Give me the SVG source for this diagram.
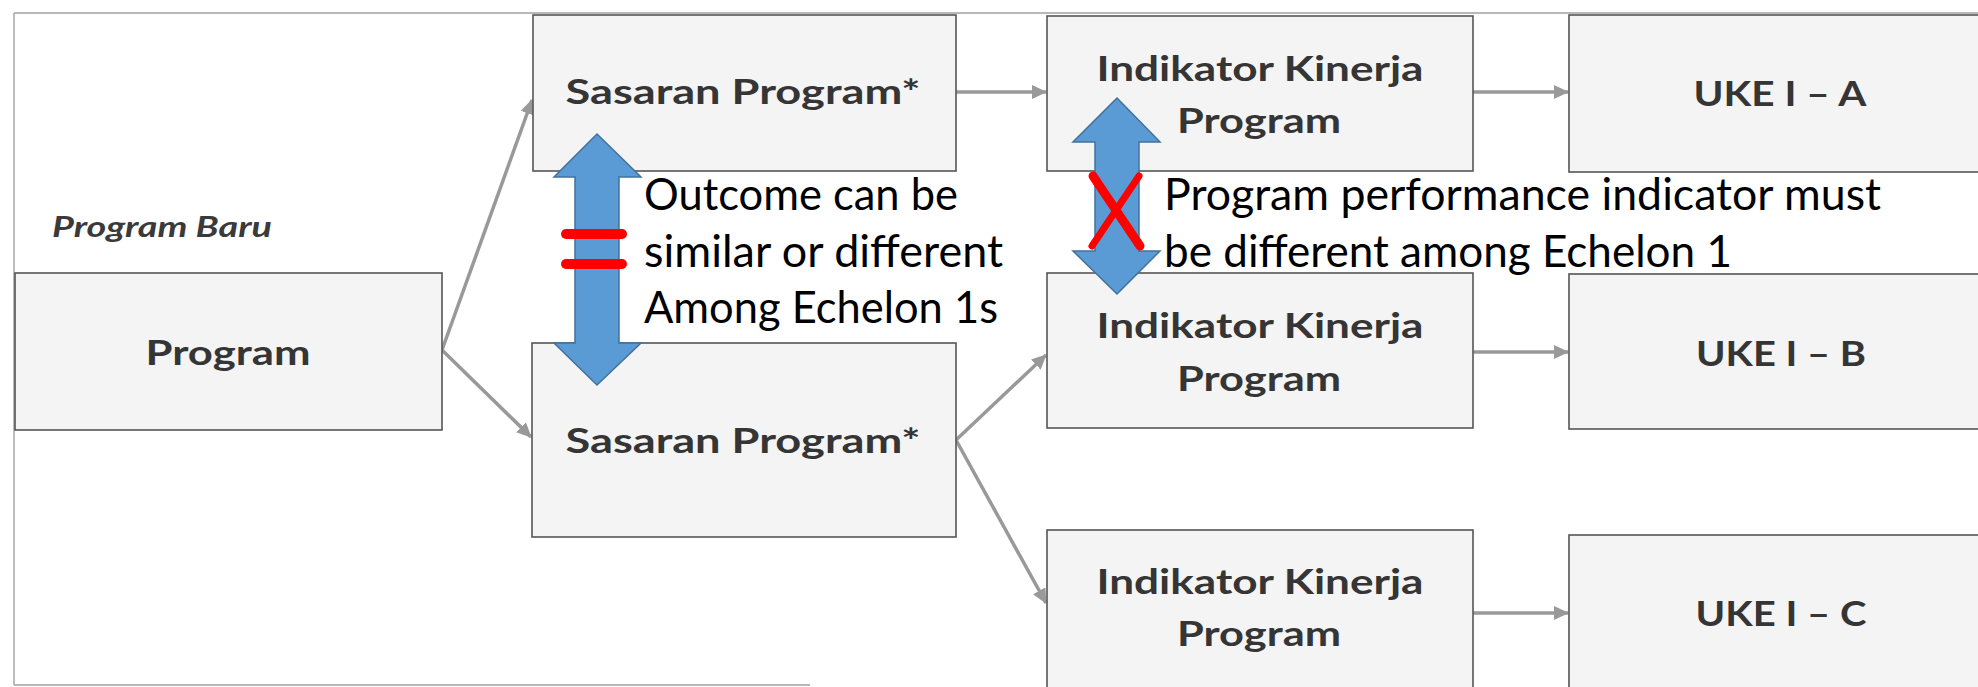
<svg xmlns="http://www.w3.org/2000/svg" width="1978" height="687" viewBox="0 0 1978 687">
<style>
.box{fill:#f4f4f4;stroke:#555;stroke-width:1.6}
.bt{font-family:Lato,"Open Sans","Liberation Sans",sans-serif;font-weight:bold;font-size:35px;fill:#353535;text-anchor:middle}
.conn{stroke:#999;stroke-width:3.5;fill:none}
.ann{font-family:Lato,"Open Sans","Liberation Sans",sans-serif;font-size:44px;fill:#000}
.blue{fill:#5b9bd5;stroke:#41719c;stroke-width:1.5}
.red{stroke:#ff0000;stroke-linecap:round;fill:none}
</style>
<defs>
<marker id="ah" markerUnits="userSpaceOnUse" markerWidth="16" markerHeight="14" refX="14" refY="7" orient="auto">
<path d="M0,0 L15,7 L0,14 Z" fill="#999"/>
</marker>
</defs>
<rect width="1978" height="687" fill="#fff"/>
<g id="frame" stroke="#a0a0a0" stroke-width="1.4" fill="none">
<line x1="14" y1="13" x2="1978" y2="13"/>
<line x1="14" y1="13" x2="14" y2="685"/>
<line x1="14" y1="685" x2="810" y2="685"/>
</g>
<text x="52" y="237" font-family="Lato,'Open Sans',sans-serif" font-weight="bold" font-style="italic" font-size="29" fill="#3a3a3a" textLength="220" lengthAdjust="spacingAndGlyphs">Program Baru</text>
<g id="connectors">
<line class="conn" x1="442" y1="350" x2="532" y2="100" marker-end="url(#ah)"/>
<line class="conn" x1="442" y1="350" x2="531" y2="437" marker-end="url(#ah)"/>
<line class="conn" x1="956" y1="92" x2="1046" y2="92" marker-end="url(#ah)"/>
<line class="conn" x1="956" y1="440" x2="1046" y2="355" marker-end="url(#ah)"/>
<line class="conn" x1="956" y1="440" x2="1046" y2="603" marker-end="url(#ah)"/>
<line class="conn" x1="1473" y1="92" x2="1568" y2="92" marker-end="url(#ah)"/>
<line class="conn" x1="1473" y1="352" x2="1568" y2="352" marker-end="url(#ah)"/>
<line class="conn" x1="1473" y1="613" x2="1568" y2="613" marker-end="url(#ah)"/>
</g>
<g id="program">
<rect class="box" x="15" y="273" width="427" height="157"/>
<text class="bt" x="228" y="365" textLength="165" lengthAdjust="spacingAndGlyphs">Program</text>
</g>
<g id="sasaran1">
<rect class="box" x="533" y="15" width="423" height="156"/>
<text class="bt" x="743" y="104" textLength="355" lengthAdjust="spacingAndGlyphs">Sasaran Program*</text>
</g>
<g id="sasaran2">
<rect class="box" x="532" y="343" width="424" height="194"/>
<text class="bt" x="743" y="453" textLength="355" lengthAdjust="spacingAndGlyphs">Sasaran Program*</text>
</g>
<g id="indikator1">
<rect class="box" x="1047" y="16" width="426" height="155"/>
<text class="bt" x="1260" y="81" textLength="327" lengthAdjust="spacingAndGlyphs">Indikator Kinerja</text>
<text class="bt" x="1259" y="133" textLength="164" lengthAdjust="spacingAndGlyphs">Program</text>
</g>
<g id="indikator2">
<rect class="box" x="1047" y="273" width="426" height="155"/>
<text class="bt" x="1260" y="338" textLength="327" lengthAdjust="spacingAndGlyphs">Indikator Kinerja</text>
<text class="bt" x="1259" y="391" textLength="164" lengthAdjust="spacingAndGlyphs">Program</text>
</g>
<g id="indikator3">
<rect class="box" x="1047" y="530" width="426" height="165"/>
<text class="bt" x="1260" y="594" textLength="327" lengthAdjust="spacingAndGlyphs">Indikator Kinerja</text>
<text class="bt" x="1259" y="646" textLength="164" lengthAdjust="spacingAndGlyphs">Program</text>
</g>
<g id="ukeA">
<rect class="box" x="1569" y="15" width="430" height="157"/>
<text class="bt" x="1780" y="106" textLength="173" lengthAdjust="spacingAndGlyphs">UKE I – A</text>
</g>
<g id="ukeB">
<rect class="box" x="1569" y="274" width="430" height="155"/>
<text class="bt" x="1781" y="366" textLength="170" lengthAdjust="spacingAndGlyphs">UKE I – B</text>
</g>
<g id="ukeC">
<rect class="box" x="1569" y="535" width="430" height="160"/>
<text class="bt" x="1781" y="626" textLength="171" lengthAdjust="spacingAndGlyphs">UKE I – C</text>
</g>
<g id="annotation-outcome">
<polygon class="blue" points="597,134 641,177 619,177 619,343 641,343 597,385 554,343 575,343 575,177 554,177"/>
<line class="red" x1="566" y1="234" x2="622" y2="234" stroke-width="10"/>
<line class="red" x1="566" y1="264" x2="622" y2="264" stroke-width="10"/>
<text class="ann" x="644" y="210" textLength="314" lengthAdjust="spacingAndGlyphs">Outcome can be</text>
<text class="ann" x="644" y="267" textLength="359" lengthAdjust="spacingAndGlyphs">similar or different</text>
<text class="ann" x="644" y="323" textLength="354" lengthAdjust="spacingAndGlyphs">Among Echelon 1s</text>
</g>
<g id="annotation-indicator">
<polygon class="blue" points="1117,98 1160,142 1139,142 1139,251 1160,251 1117,294 1073,251 1095,251 1095,142 1073,142"/>
<line class="red" x1="1093" y1="176" x2="1140" y2="246" stroke-width="9" stroke-linecap="butt"/>
<line class="red" x1="1139" y1="176" x2="1092" y2="246" stroke-width="7" stroke-linecap="butt"/>
<text class="ann" x="1164" y="210" textLength="717" lengthAdjust="spacingAndGlyphs">Program performance indicator must</text>
<text class="ann" x="1164" y="267" textLength="568" lengthAdjust="spacingAndGlyphs">be different among Echelon 1</text>
</g>
</svg>
